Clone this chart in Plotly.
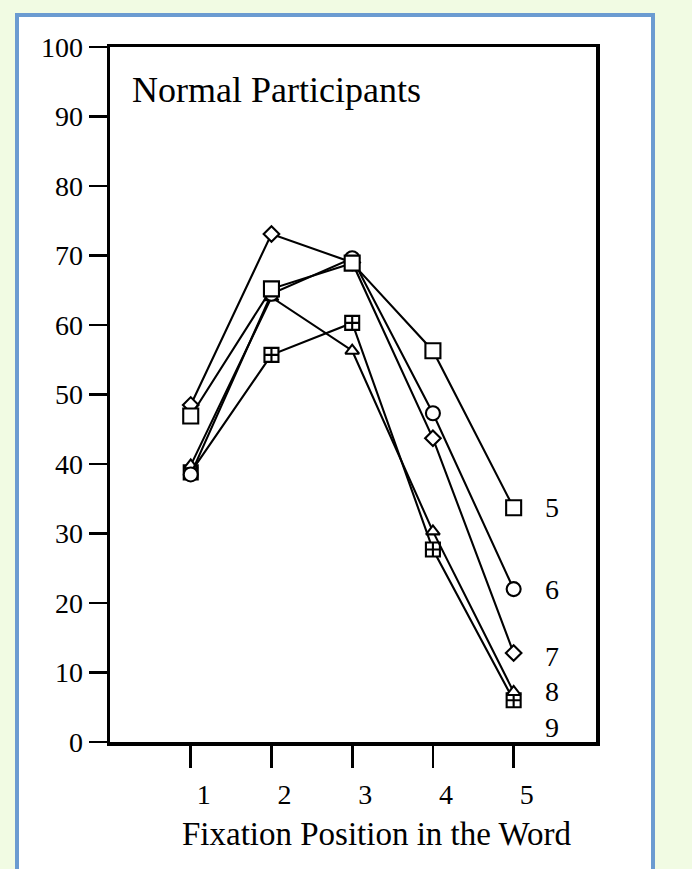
import plotly.graph_objects as go

positions = [1, 2, 3, 4, 5]
series_names = ["5", "6", "7", "8", "9"]
values_5 = [46.9, 65.2, 68.9, 56.3, 33.7]
values_6 = [38.5, 64.5, 69.6, 47.3, 22.0]
values_7 = [48.5, 73.1, 69.0, 43.7, 12.8]
values_8 = [39.8, 64.0, 56.3, 30.3, 7.2]
values_9 = [38.8, 55.7, 60.3, 27.7, 6.0]
y_ticks = [0, 10, 20, 30, 40, 50, 60, 70, 80, 90, 100]

series = [
    ("9", values_9, "square-cross", 14),
    ("8", values_8, "triangle-up", 12),
    ("7", values_7, "diamond", 12),
    ("6", values_6, "circle", 14),
    ("5", values_5, "square", 15),
]
label_yshift = {"5": 0, "6": 0, "7": -3, "8": 0, "9": -27}

FONT = "Liberation Serif, Times New Roman, serif"

fig = go.Figure()
for name, vals, sym, size in series:
    fig.add_trace(go.Scatter(
        x=positions, y=vals, mode="lines+markers", name=name,
        line=dict(color="black", width=2.1),
        marker=dict(symbol=sym, size=size, color="white",
                    line=dict(color="black", width=2.1)),
        showlegend=False, hoverinfo="skip",
    ))
    fig.add_annotation(x=positions[-1], y=vals[-1], xref="x", yref="y",
                       text=name, showarrow=False, xanchor="center",
                       yanchor="middle", xshift=38, yshift=label_yshift[name],
                       font=dict(family=FONT, size=28, color="black"))

W, H = 692, 869
L, R, T, B = 110, 96, 47, 127
pw, ph = W - L - R, H - T - B

def px(x):
    return (x - L) / pw

def py(y):
    return (H - B - y) / ph

# white panel with blue border
fig.add_shape(type="rect", xref="paper", yref="paper",
              x0=px(17), x1=px(653), y0=py(900), y1=py(15),
              fillcolor="white", line=dict(color="#6B9BD1", width=4),
              layer="below")

fig.add_annotation(xref="paper", yref="paper", x=px(130), y=py(90),
                   text="Normal Participants", showarrow=False,
                   xanchor="left", yanchor="middle",
                   font=dict(family=FONT, size=36, color="black"))
fig.add_annotation(xref="paper", yref="paper", x=px(377), y=py(834),
                   text="Fixation Position in the Word", showarrow=False,
                   xanchor="center", yanchor="middle",
                   font=dict(family=FONT, size=33, color="black"))

fig.update_xaxes(range=[0, 6.02], tickvals=positions,
                 ticktext=[str(p) for p in positions],
                 ticks="outside", ticklen=22, tickwidth=2.8, tickcolor="black",
                 showline=True, linecolor="black", linewidth=3.5, mirror=True,
                 showgrid=False, zeroline=False, ticklabelshift=13,
                 ticklabelstandoff=3,
                 tickfont=dict(family=FONT, size=28, color="black"))
fig.update_yaxes(range=[0, 100], tickvals=y_ticks,
                 ticks="outside", ticklen=18, tickwidth=2.8, tickcolor="black",
                 showline=True, linecolor="black", linewidth=3.5, mirror=True,
                 showgrid=False, zeroline=False,
                 tickfont=dict(family=FONT, size=28, color="black"))

fig.update_layout(width=W, height=H,
                  margin=dict(l=L, r=R, t=T, b=B, pad=0),
                  paper_bgcolor="#F1FBE3", plot_bgcolor="white",
                  font=dict(family=FONT), hovermode=False)

fig.write_html(
    "out.html",
    config={"displayModeBar": False, "staticPlot": True},
    post_script="document.body.style.margin='0';"
                "document.body.style.overflow='hidden';"
                "document.body.style.background='#F1FBE3';",
)
